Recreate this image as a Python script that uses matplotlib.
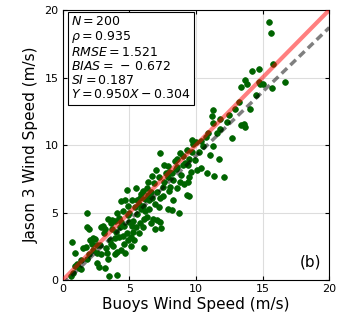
import matplotlib
matplotlib.use("Agg")
import matplotlib.pyplot as plt
import numpy as np

buoy = [0.7, 0.95, 0.9, 1.05, 1.35, 0.75, 0.6, 1.2, 1.55, 1.75, 1.85, 2.0, 1.8, 1.85, 2.0, 2.05, 2.3, 2.45, 2.55, 2.55, 2.7, 2.3, 2.9, 2.8, 2.6,
        3.2, 3.5, 4.1, 3.25, 3.3, 3.4, 3.2, 3.55, 3.7, 3.7, 3.9, 4.05, 3.6, 3.8, 4.05, 4.4, 4.2, 4.0, 4.3, 4.4, 4.6, 4.5, 4.8, 4.9, 4.4, 4.8, 4.6, 3.95, 4.7, 4.9, 3.0, 3.1,
        5.35, 5.1, 5.2, 5.0, 5.3, 5.5, 5.55, 5.2, 5.9, 5.6, 5.7, 6.05, 6.1, 6.3, 5.8, 6.0, 6.3, 6.4, 6.2, 6.5, 6.6, 6.8, 7.05, 6.85, 6.7, 6.5, 5.8, 6.0, 6.9, 6.6, 5.4, 5.5,
        7.05, 7.4, 7.3, 7.0, 7.3, 7.5, 7.55, 7.3, 7.9, 7.75, 8.05, 7.9, 8.2, 8.7, 8.0, 8.3, 8.5, 8.6, 8.8, 8.9, 8.8, 8.6, 8.25, 8.0, 7.2, 7.6, 8.4, 9.0, 9.1,
        9.3, 9.5, 9.7, 9.8, 9.5, 9.2, 9.4, 9.6, 9.9, 10.1, 10.4, 10.55, 10.2, 10.0, 9.3, 10.8, 10.75, 10.9, 9.0, 9.5, 9.4,
        11.05, 11.3, 11.7, 11.35, 12.1, 11.25, 11.2, 11.8, 12.5, 11.8, 11.3, 12.3, 12.7, 12.95, 11.6,
        13.25, 13.4, 13.7, 13.6, 14.05, 13.35, 13.7, 13.8, 14.5, 14.7, 14.8, 14.2, 14.75, 15.7, 16.7, 15.8, 15.5, 15.6, 15.0,
        3.6, 4.2, 4.5, 5.0, 5.3, 5.9, 6.2, 6.4, 6.9, 7.2, 7.6, 8.2, 8.6, 5.1, 4.7, 3.4, 2.2, 1.4, 6.7, 7.9, 9.7, 10.4, 5.7, 6.1, 4.9, 3.9, 2.9]
jason = [2.85, 2.0, 1.05, 1.2, 0.8, 0.5, 0.3, 0.9, 2.35, 2.45, 1.55, 1.9, 4.95, 3.95, 3.75, 3.0, 3.1, 3.05, 2.6, 1.25, 1.0, 2.2, 3.9, 2.6, 2.0,
         0.9, 0.3, 0.35, 2.35, 2.0, 4.55, 3.8, 3.0, 3.75, 4.45, 4.4, 5.0, 2.7, 2.5, 2.1, 2.2, 3.2, 3.6, 3.9, 4.3, 4.0, 3.3, 3.5, 3.0, 5.85, 6.7, 2.7, 1.9, 5.9, 4.8, 4.0, 3.5,
         2.95, 3.2, 4.0, 5.0, 4.4, 3.9, 5.9, 5.95, 6.4, 4.9, 3.5, 3.95, 2.35, 4.7, 4.2, 5.5, 6.8, 7.3, 6.0, 5.9, 4.2, 4.5, 4.45, 7.2, 6.1, 5.3, 6.1, 6.6, 3.8, 6.5, 5.4, 6.8,
         6.5, 3.85, 4.3, 8.15, 9.4, 6.9, 6.2, 6.05, 8.45, 7.9, 6.9, 5.3, 5.2, 4.95, 8.0, 7.4, 8.2, 9.0, 7.3, 7.8, 9.4, 6.8, 5.9, 6.6, 7.6, 8.5, 8.8, 8.5, 7.1,
         6.3, 6.25, 10.4, 10.1, 9.0, 8.7, 8.5, 8.0, 8.9, 8.15, 8.3, 9.9, 9.5, 10.2, 9.6, 7.95, 10.6, 10.9, 9.2, 7.6, 7.3,
         9.25, 9.9, 9.0, 7.7, 7.65, 12.6, 12.15, 11.9, 12.2, 11.2, 11.6, 11.7, 10.5, 12.7, 10.9,
         13.2, 11.5, 11.35, 11.55, 12.7, 14.3, 14.8, 14.5, 13.7, 14.7, 14.5, 15.5, 15.6, 14.2, 14.7, 16.0, 19.1, 18.3, 14.5,
         4.2, 4.6, 5.1, 4.3, 3.6, 5.3, 5.1, 6.3, 5.6, 5.4, 7.3, 7.9, 8.4, 2.5, 2.0, 1.6, 2.7, 1.5, 7.7, 7.6, 9.5, 10.3, 5.6, 4.5, 5.5, 3.1, 1.9]

ticks = [0, 5, 10, 15, 20]
slope, intercept = 0.950, -0.304
stats_lines = [r"$N = 200$", r"$\rho = 0.935$", r"$RMSE = 1.521$", r"$BIAS = \,-\, 0.672$",
               r"$SI = 0.187$", r"$Y = 0.950X - 0.304$"]

plt.rcParams['font.family'] = ['DejaVu Sans']
plt.rcParams['mathtext.fontset'] = 'dejavusans'

fig = plt.figure(figsize=(3.43, 3.22), dpi=100)
ax = fig.add_axes([0.183, 0.130, 0.777, 0.839])

ax.scatter(buoy, jason, s=17, color='#006400', edgecolors='#006400', linewidths=0.5, zorder=2)
xx = np.array([0, 20])
ax.plot(xx, xx, color='red', alpha=0.5, lw=3, zorder=3, solid_capstyle='butt')
ax.plot(xx, slope * xx + intercept, color='black', alpha=0.5, lw=2.5, dashes=(2.2, 1.3), zorder=4)

ax.set_xlim(0, 20)
ax.set_ylim(0, 20)
ax.set_xticks(ticks)
ax.set_yticks(ticks)
ax.grid(True, color='#dddddd', lw=0.8, zorder=0)
ax.set_axisbelow(True)
ax.tick_params(direction='in', length=3, labelsize=8, top=True, right=True, pad=3)
for s in ax.spines.values():
    s.set_linewidth(0.8)
ax.set_xlabel("Buoys Wind Speed (m/s)", fontsize=11, labelpad=2)
ax.set_ylabel("Jason 3 Wind Speed (m/s)", fontsize=11, labelpad=4)

ax.text(0.03, 0.98, "\n".join(stats_lines), transform=ax.transAxes, va='top', ha='left',
        fontsize=9, linespacing=1.1,
        bbox=dict(boxstyle='square,pad=0.25', fc='white', ec='black', lw=0.8), zorder=5)
ax.text(0.97, 0.04, "(b)", transform=ax.transAxes, ha='right', va='bottom', fontsize=11, zorder=5)

fig.savefig("out.png", dpi=100)
